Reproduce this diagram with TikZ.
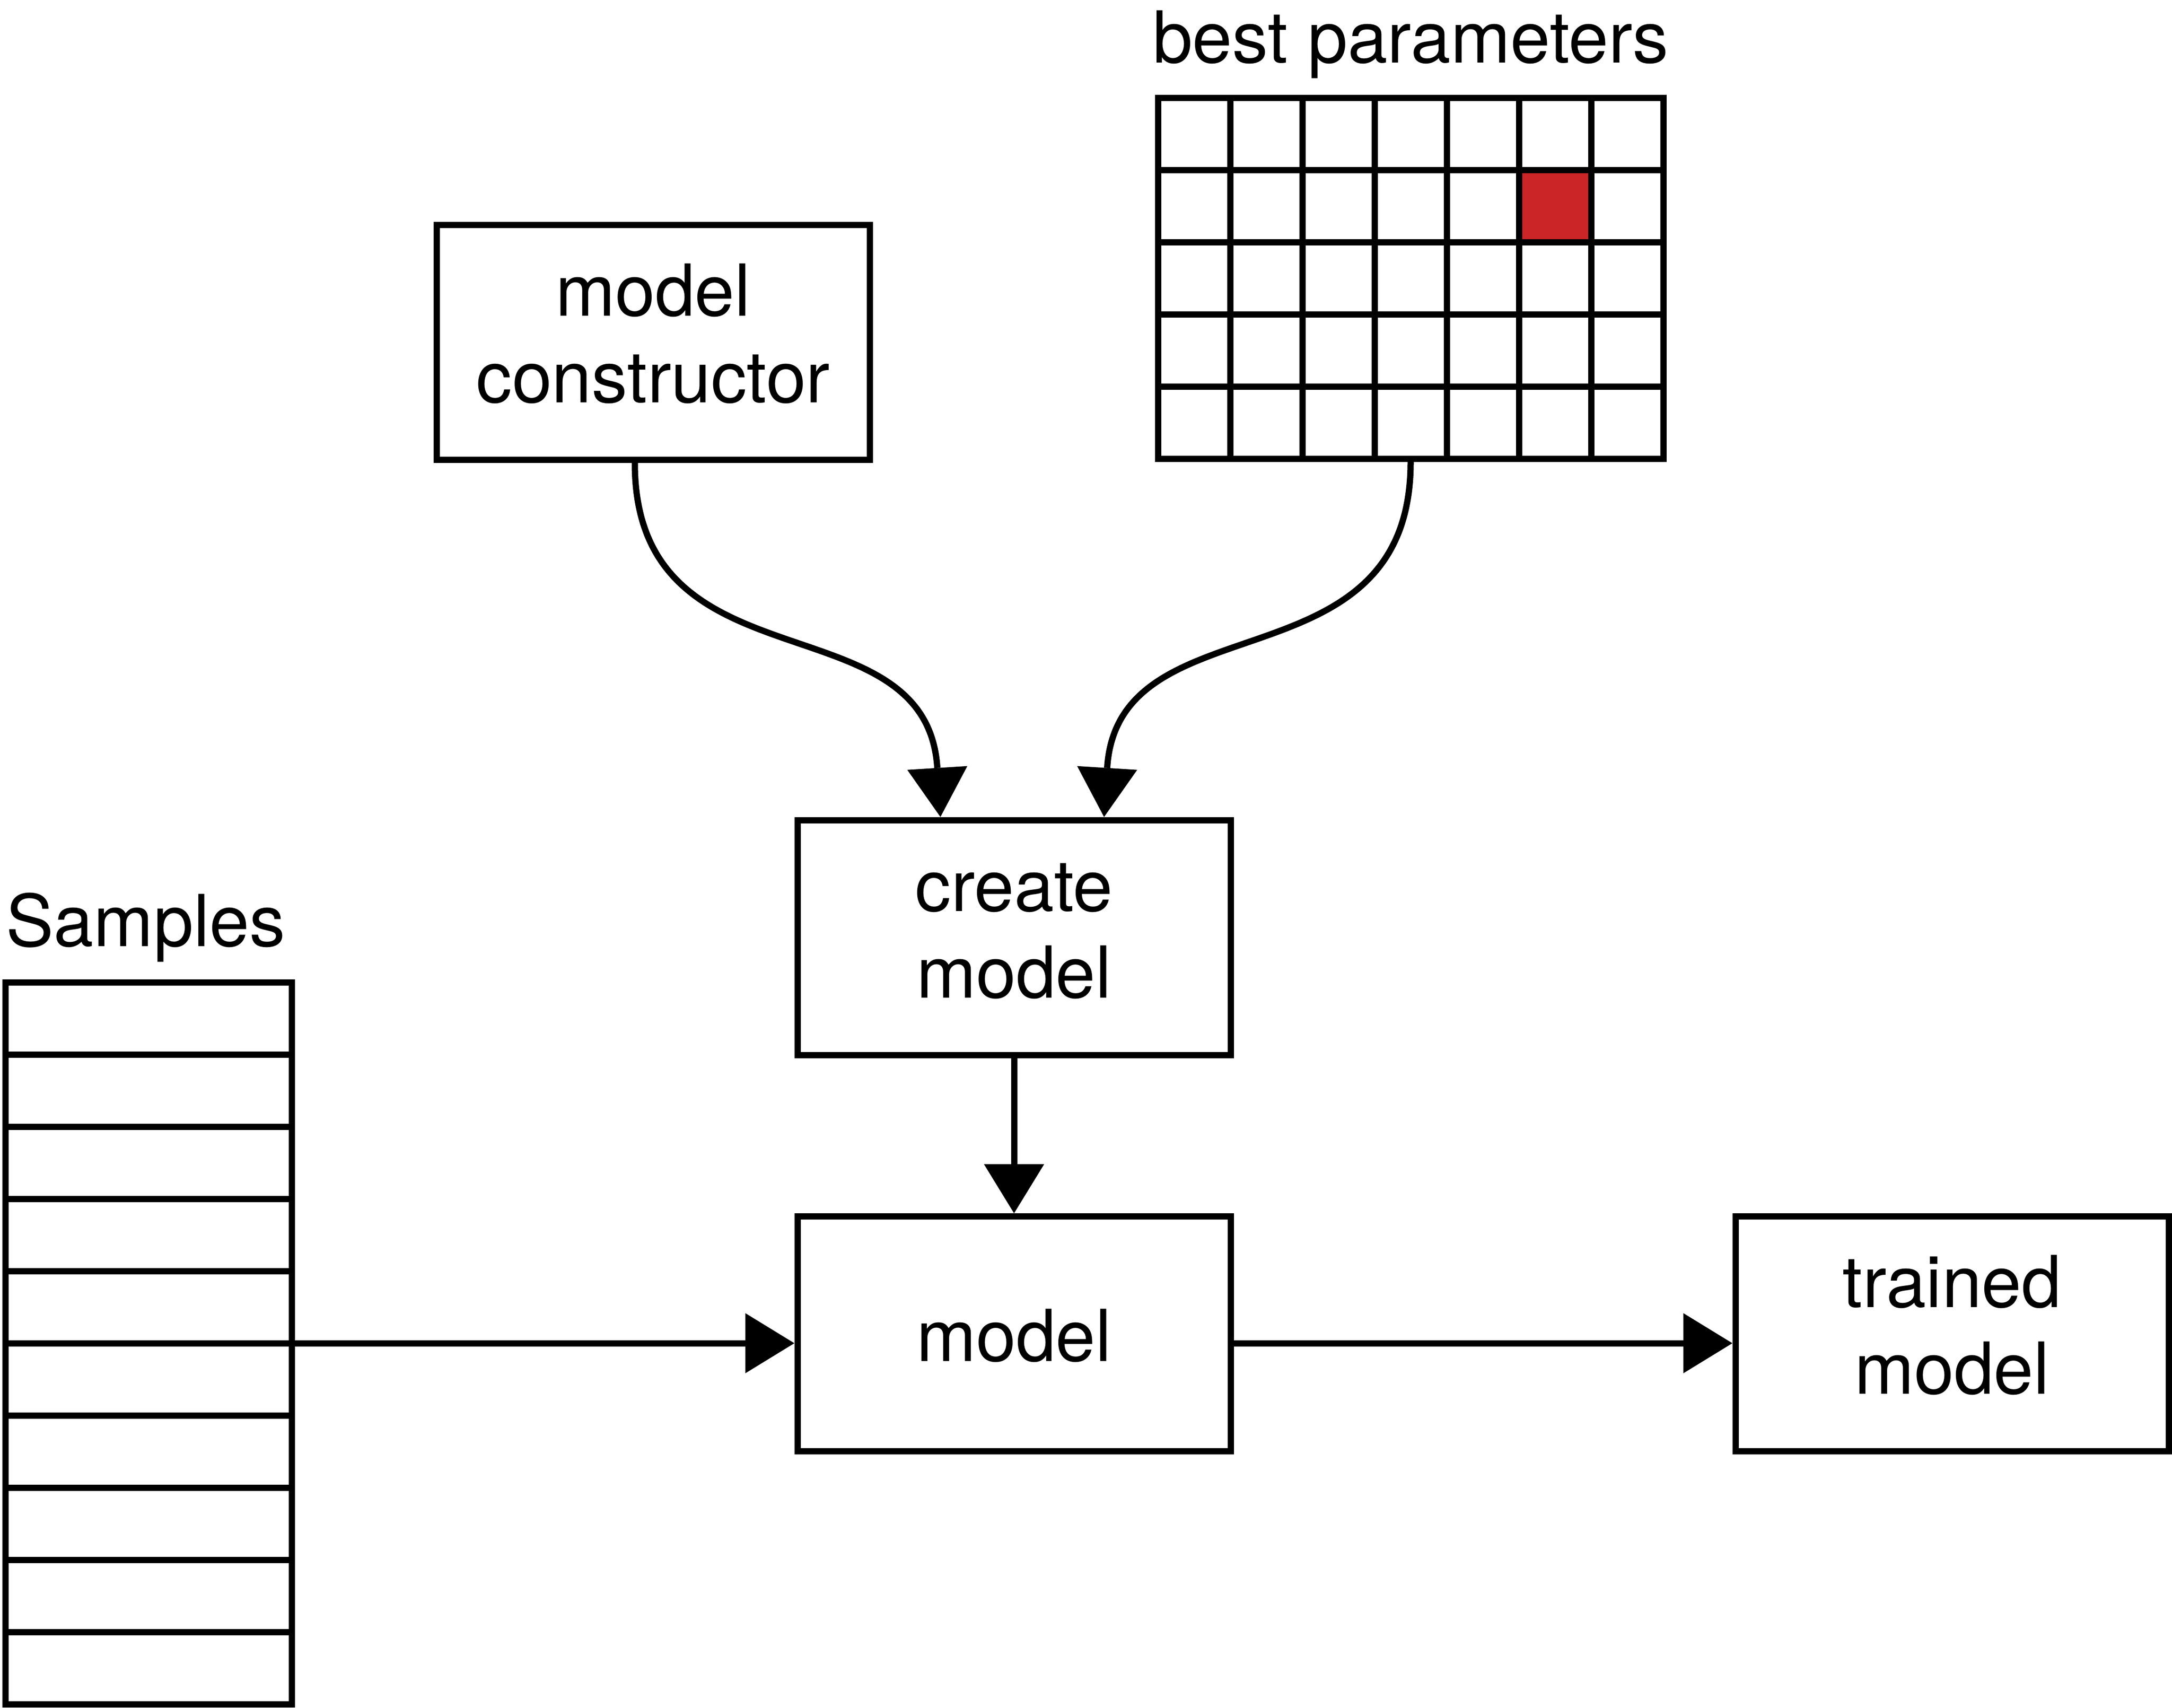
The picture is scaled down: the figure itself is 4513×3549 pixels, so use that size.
\documentclass[tikz,border=0pt]{standalone}
\usepackage{fontspec}
\setmainfont{TeX Gyre Heros}
\usetikzlibrary{arrows.meta}
\definecolor{cellred}{RGB}{204,37,39}
\newcommand\topstrut{\rule{0pt}{108pt}}
\newcommand\botstrut{\rule[-38pt]{0pt}{38pt}}
\newcommand\onestrut{\rule{0pt}{116pt}}
\begin{document}
\begin{tikzpicture}[x=1pt,y=-1pt,
  every node/.style={font=\fontsize{149pt}{180pt}\selectfont, inner sep=0pt},
  procbox/.style={draw, line width=13pt, minimum width=900pt, minimum height=488pt, align=center},
  tablebox/.style={draw, line width=13pt},
  gridline/.style={line width=13pt},
  arr/.style={line width=13pt, -{Triangle[length=102pt,width=125pt,line width=0pt]}}
]
\useasboundingbox (0,0) rectangle (4513,3549);

% process boxes
\node[procbox] (constructor) at (1357,711.5) {\topstrut model\\constructor\botstrut};
\node[procbox] (create) at (2107,1948) {\topstrut create\\model\botstrut};
\node[procbox] (model) at (2107,2771.5) {\onestrut model};
\node[procbox] (trained) at (4056,2771.5) {\topstrut trained\\model\botstrut};

% best parameters grid
\fill[cellred] (3156,353) rectangle (3306,503);
\node[tablebox, minimum width=1050pt, minimum height=750pt] (params) at (2931,578) {};
\foreach \i in {1,...,6} \draw[gridline] ({2406+150*\i},203) -- ({2406+150*\i},953);
\foreach \j in {1,...,4} \draw[gridline] (2406,{203+150*\j}) -- (3456,{203+150*\j});
\node[anchor=base] (bestlabel) at (2931,130) {best parameters};

% samples table
\node[tablebox, minimum width=595pt, minimum height=1500pt] (samples) at (309,2791) {};
\foreach \j in {1,...,9} \draw[gridline] (11.5,{2041+150*\j}) -- (606.5,{2041+150*\j});
\node[anchor=base west] (samplelabel) at (12,1966) {Samples};

% curved connectors
\coordinate (s1) at ([xshift=-38pt]constructor.south);
\coordinate (e1) at ([xshift=-153pt]create.north);
\draw[arr] (s1) .. controls +(0,479) and +(-29,-458) .. (e1);

\coordinate (s2) at (params.south);
\coordinate (e2) at ([xshift=187pt]create.north);
\draw[arr] (s2) .. controls +(0,479) and +(29,-458) .. (e2);

% straight connectors
\draw[arr] (create) -- (model);
\draw[arr] (samples.east) -- (samples.east -| model.west);
\draw[arr] (samples.east -| model.east) -- (samples.east -| trained.west);
\end{tikzpicture}
\end{document}
